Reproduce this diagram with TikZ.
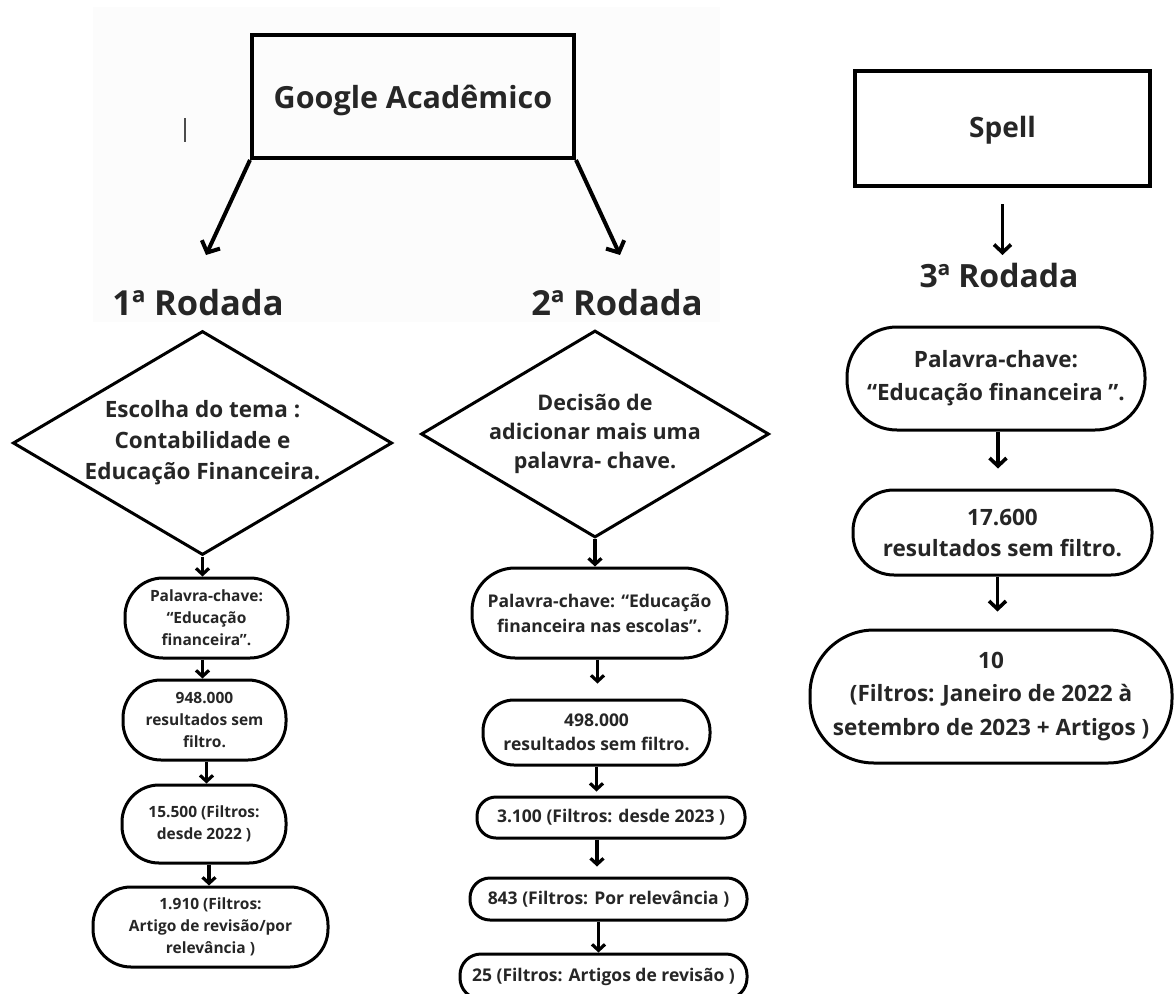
\documentclass[tikz,border=0pt]{standalone}
\usepackage{fontspec}
\setmainfont{Open Sans}
\usetikzlibrary{arrows.meta,shapes.geometric}
\newcommand\myfs[2]{\fontsize{#1}{#2}\selectfont}
\tikzset{
  every node/.style={text=black!85, font=\bfseries},
  topbox/.style={draw, line width=4pt, inner sep=0pt, align=center},
  dia/.style={draw, shape=diamond, line width=3pt, inner sep=0pt, align=center, aspect=1.7},
  pill/.style={draw, line width=3pt, inner sep=0pt, align=center},
  title/.style={inner sep=0pt, align=center},
  arr/.style={line width=3.2pt, -{Straight Barb[length=6pt,width=13pt,line width=3.2pt]}},
  midarr/.style={line width=3.6pt, -{Straight Barb[length=8pt,width=17pt,line width=3.6pt]}},
  bigarr/.style={line width=4pt, -{Straight Barb[length=9pt,width=20pt,line width=4pt]}},
}
\begin{document}
\begin{tikzpicture}[x=1pt,y=-1pt]
\useasboundingbox (0,0) rectangle (1175,993);
\fill[white] (0,0) rectangle (1175,993);
\fill[black!1] (93,7) rectangle (720,322);

% ---------- Google Academico ----------
\node[topbox, minimum width=322pt, minimum height=123pt] (ga) at (413,96.5) {};
\node[title, font=\bfseries\myfs{30.5}{36}] (gat) at (413,100) {Google Acadêmico};
\draw[line width=1.2pt, black!70] (185,118) -- (185,142);
\coordinate (a1) at (206,255);
\coordinate (a2) at (620,255);
\draw[bigarr] (ga.south west) -- (a1);
\draw[bigarr] (ga.south east) -- (a2);
\node[title, font=\bfseries\myfs{34.5}{40}] (r1) at (198,303) {1ª Rodada};
\node[title, font=\bfseries\myfs{34.5}{40}] (r2) at (617,303) {2ª Rodada};

% ---------- Column 1 ----------
\node[dia, minimum width=379pt, minimum height=224pt, font=\bfseries\myfs{22.5}{31}] (d1) at (202.5,443) {Escolha do tema :\\Contabilidade e\\Educação Financeira.};
\node[pill, minimum width=163pt, minimum height=80pt, rounded corners=38pt, font=\bfseries\myfs{15.5}{22}] (b1) at (206.5,618) {Palavra-chave:\\“Educação\\financeira”.};
\node[pill, minimum width=163pt, minimum height=80pt, rounded corners=38pt, font=\bfseries\myfs{15.5}{22}] (b2) at (204.5,720) {948.000\\resultados sem\\filtro.};
\node[pill, minimum width=164pt, minimum height=78pt, rounded corners=37pt, font=\bfseries\myfs{15.5}{22}] (b3) at (204,824) {15.500 (Filtros:\\desde 2022 )};
\node[pill, minimum width=235pt, minimum height=80pt, rounded corners=38pt, font=\bfseries\myfs{15.5}{22}] (b4) at (210.5,927) {1.910 (Filtros:\\Artigo de revisão/por\\relevância )};
\draw[arr] (d1.south) -- (d1.south |- b1.north);
\draw[arr] ([xshift=-4pt]b1.south) -- ([xshift=-4pt]b1.south |- b2.north);
\draw[arr] ([xshift=2pt]b2.south) -- ([xshift=2pt]b2.south |- b3.north);
\draw[arr] ([xshift=5pt]b3.south) -- ([xshift=5pt]b3.south |- b4.north);

% ---------- Column 2 ----------
\node[dia, minimum width=348pt, minimum height=207pt, font=\bfseries\myfs{21.5}{29}] (d2) at (595,434) {Decisão de\\adicionar mais uma\\palavra- chave.};
\node[pill, minimum width=255pt, minimum height=90pt, rounded corners=43pt, font=\bfseries\myfs{17.5}{25}] (c1) at (599.5,613) {Palavra-chave: “Educação\\financeira nas escolas”.};
\node[pill, minimum width=227pt, minimum height=65pt, rounded corners=31pt, font=\bfseries\myfs{17.5}{24}] (c2) at (596.5,732.5) {498.000\\resultados sem filtro.};
\node[pill, minimum width=268pt, minimum height=41pt, rounded corners=19pt, font=\bfseries\myfs{17.5}{24}] (c3) at (611,817.5) {3.100 (Filtros: desde 2023 )};
\node[pill, minimum width=277pt, minimum height=42pt, rounded corners=20pt, font=\bfseries\myfs{17.5}{24}] (c4) at (608.5,899) {843 (Filtros: Por relevância )};
\node[pill, minimum width=287pt, minimum height=45pt, rounded corners=21pt, font=\bfseries\myfs{17.5}{24}] (c5) at (603.5,976.5) {25 (Filtros: Artigos de revisão )};
\draw[arr] (d2.south) -- (d2.south |- c1.north);
\draw[arr, shorten >=15pt] ([xshift=-2pt]c1.south) -- ([xshift=-2pt]c1.south |- c2.north);
\draw[arr, shorten >=4pt] (c2.south) -- (c2.south |- c3.north);
\draw[arr, shorten >=10pt] ([xshift=-14pt]c3.south) -- ([xshift=-14pt]c3.south |- c4.north);
\draw[arr] ([xshift=-10pt]c4.south) -- ([xshift=-10pt]c4.south |- c5.north);

% ---------- Column 3 ----------
\node[topbox, minimum width=295pt, minimum height=115pt] (sp) at (1002.5,128.5) {};
\node[title, font=\bfseries\myfs{28}{32}] (spt) at (1002.5,130) {Spell};
\node[title, font=\bfseries\myfs{32}{38}] (r3) at (999,275) {3ª Rodada};
\draw[midarr, shorten <=16pt] (sp.south) -- ++(0,67);
\node[pill, minimum width=298pt, minimum height=103pt, rounded corners=50pt, font=\bfseries\myfs{22.5}{33}] (e1) at (996,378.5) {Palavra-chave:\\“Educação financeira ”.};
\node[pill, minimum width=299pt, minimum height=85pt, rounded corners=41pt, font=\bfseries\myfs{22.5}{31}] (e2) at (1002.5,532.5) {17.600\\resultados sem filtro.};
\node[pill, minimum width=362pt, minimum height=133pt, rounded corners=64pt, font=\bfseries\myfs{22.5}{33.5}] (e3) at (991,696.5) {10\\(Filtros: Janeiro de 2022 à\\setembro de 2023 + Artigos )};
\draw[midarr, shorten >=20pt] ([xshift=2pt]e1.south) -- ([xshift=2pt]e1.south |- e2.north);
\draw[midarr, shorten >=17pt] ([xshift=-5pt]e2.south) -- ([xshift=-5pt]e2.south |- e3.north);
\end{tikzpicture}
\end{document}
